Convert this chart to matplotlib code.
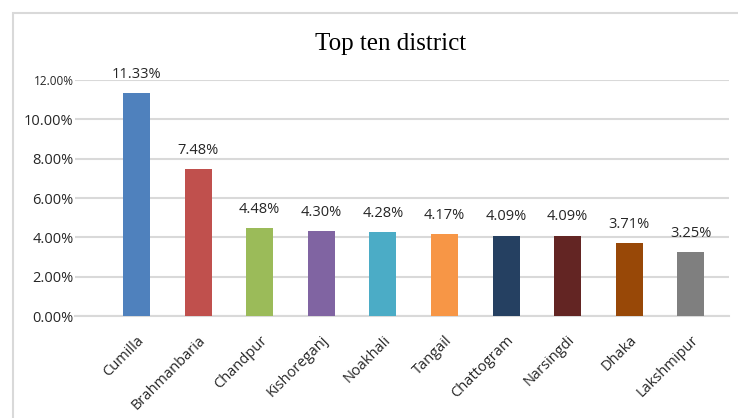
import matplotlib.pyplot as plt
from matplotlib.patches import Rectangle
from matplotlib.ticker import FuncFormatter

districts = ["Cumilla", "Brahmanbaria", "Chandpur", "Kishoreganj", "Noakhali",
             "Tangail", "Chattogram", "Narsingdi", "Dhaka", "Lakshmipur"]
shares = [11.33, 7.48, 4.48, 4.30, 4.28, 4.17, 4.09, 4.09, 3.71, 3.25]
colors = ["#4F81BD", "#C0504D", "#9BBB59", "#8064A2", "#4BACC6",
          "#F79646", "#254061", "#632523", "#984807", "#7F7F7F"]
yticks = [0, 2, 4, 6, 8, 10, 12]

plt.rcParams['font.family'] = ['Open Sans', 'DejaVu Sans']

fig = plt.figure(figsize=(7.38, 4.18), dpi=100)
W, H = 738, 418
ax = fig.add_axes([75 / W, (H - 316) / H, (729 - 75) / W, (316 - 80) / H])

# frame of the chart area (right and bottom run off the picture)
fig.patches.append(Rectangle((13 / W, -0.05), 1.05, (H - 13) / H + 0.05,
                             transform=fig.transFigure, fill=False,
                             edgecolor="#d9d9d9", lw=1.5))

x = list(range(len(districts)))
ax.bar(x, shares, width=0.44, color=colors, zorder=3)
for xi, v in zip(x, shares):
    ax.annotate(f"{v:.2f}%", (xi, v), xytext=(0, 8), textcoords="offset points",
                ha="center", va="bottom", fontsize=10.5, color="#262626")

ax.set_ylim(0, 12)
ax.set_xlim(-1.0, 9.62)
ax.set_yticks(yticks)
ax.yaxis.set_major_formatter(FuncFormatter(lambda v, p: f"{v:.2f}%"))
ax.grid(axis="y", color="#d9d9d9", lw=1.5, zorder=0)
for s in ["top", "right", "left"]:
    ax.spines[s].set_visible(False)
ax.spines["bottom"].set_color("#d9d9d9")
ax.spines["bottom"].set_linewidth(1.5)
ax.tick_params(length=0, labelsize=10.5, labelcolor="#262626")
ax.tick_params(axis="y", pad=1)
ax.tick_params(axis="x", pad=12)
ax.set_xticks(x)
ax.set_xticklabels(districts, rotation=45, ha="right", rotation_mode="anchor")
ax.get_yticklabels()[-1].set_fontsize(8.5)

fig.text(391 / W, 1 - 44 / H, "Top ten district", family="Liberation Serif",
         fontsize=18, ha="center", va="center", color="black")

fig.savefig("out.png", dpi=100)
